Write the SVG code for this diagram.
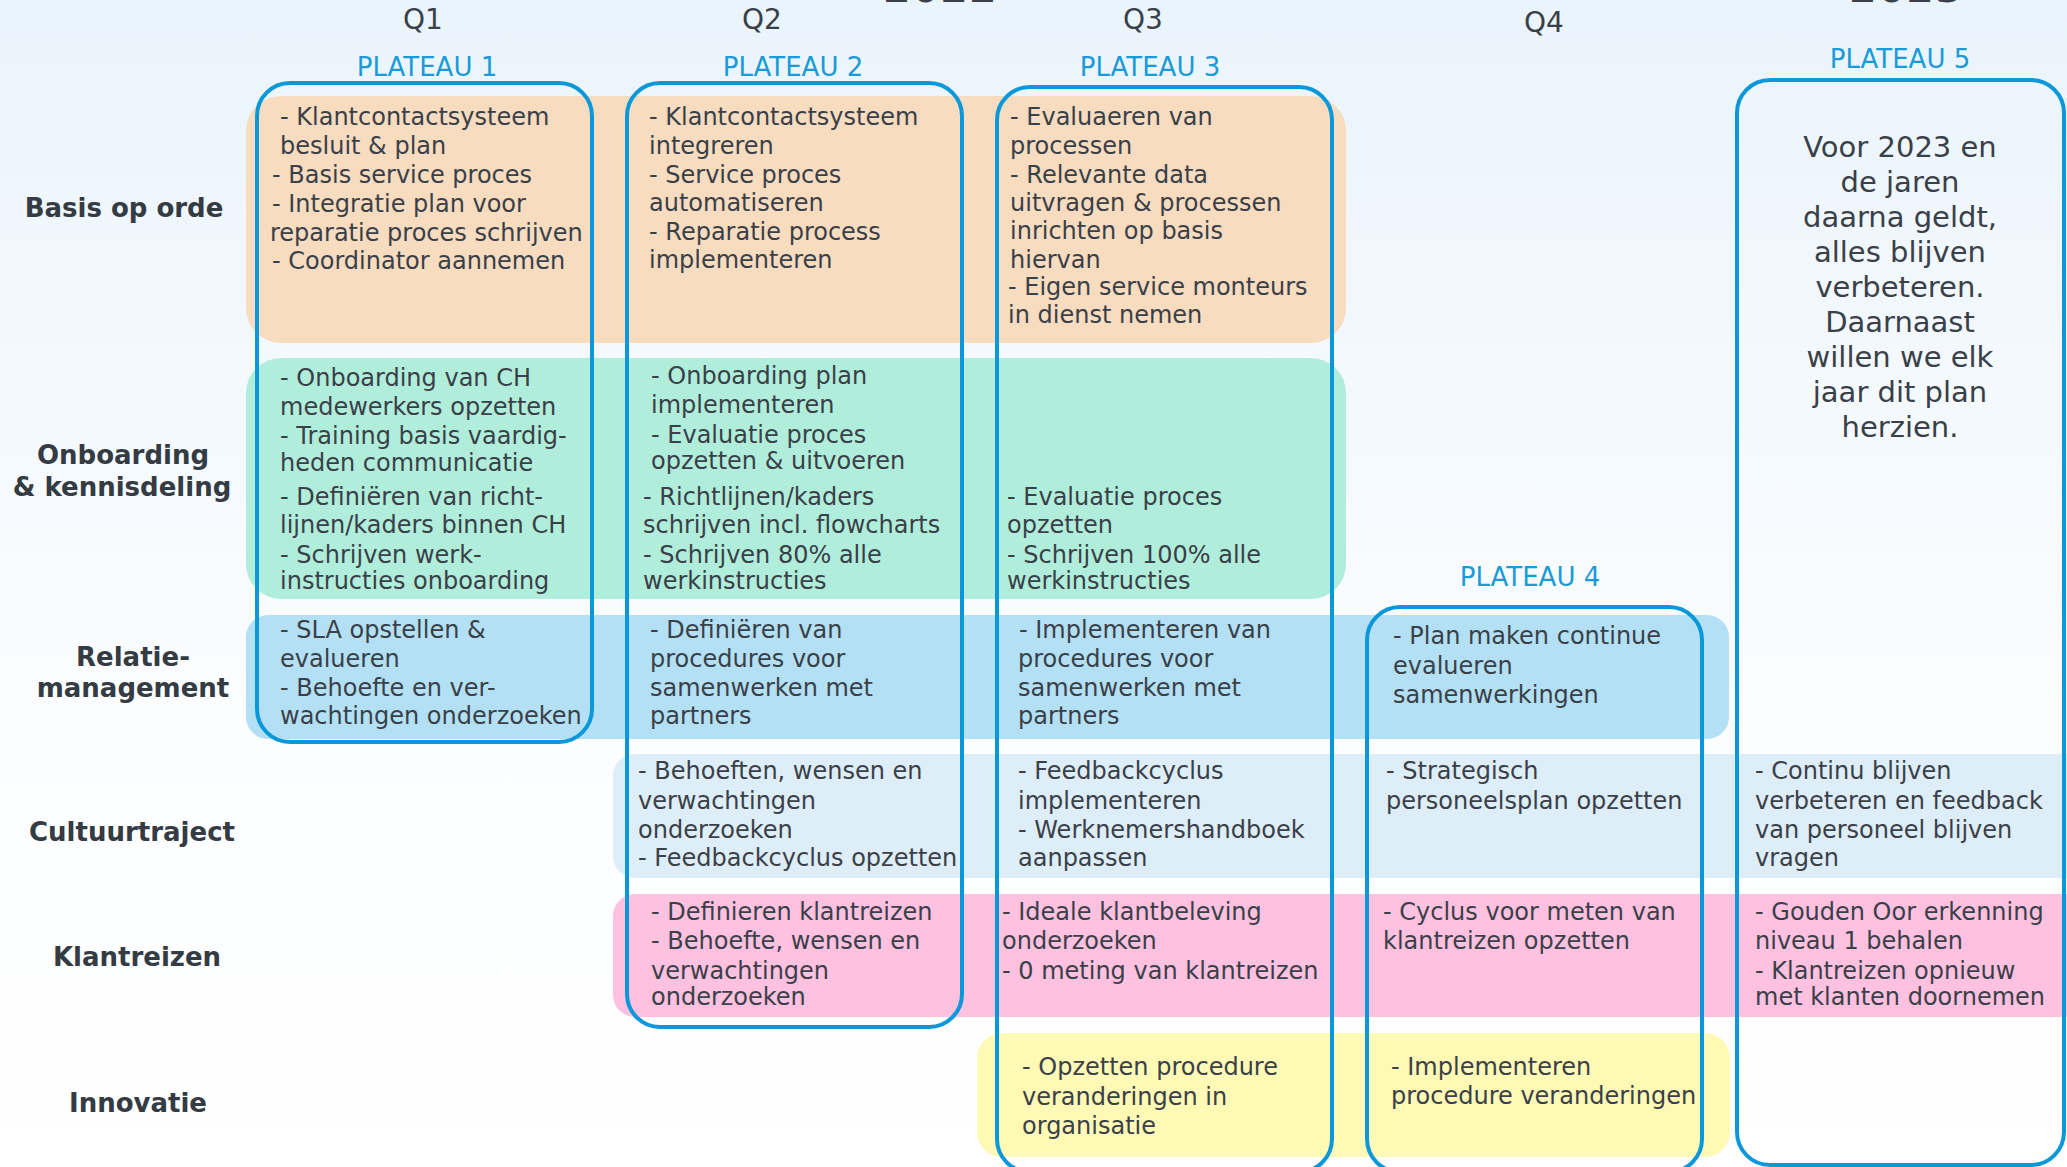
<svg xmlns="http://www.w3.org/2000/svg" width="2067" height="1167" viewBox="0 0 2067 1167">
<defs>
<linearGradient id="bg" x1="0" y1="0" x2="0" y2="1">
<stop offset="0" stop-color="#eaf4fc"/>
<stop offset="0.6" stop-color="#fbfdff"/>
<stop offset="1" stop-color="#ffffff"/>
</linearGradient>
<style>
.t{font-family:"DejaVu Sans",Verdana,sans-serif;font-size:24px;fill:#3a4048}
.lbl{font-family:"DejaVu Sans",Verdana,sans-serif;font-size:26px;font-weight:bold;fill:#343b43;text-anchor:middle}
.q{font-family:"DejaVu Sans",Verdana,sans-serif;font-size:28px;fill:#3a4048;text-anchor:middle}
.yr{font-family:"DejaVu Sans",Verdana,sans-serif;font-size:45px;fill:#3a4048;text-anchor:middle}
.pl{font-family:"DejaVu Sans",Verdana,sans-serif;font-size:26px;fill:#1a9ad8;text-anchor:middle}
.p5{font-family:"DejaVu Sans",Verdana,sans-serif;font-size:29px;fill:#3a4048;text-anchor:middle}
.plateau{fill:none;stroke:#0a98da;stroke-width:4}
.peach{fill:#f7dcc0}
.green{fill:#b0eedb}
.blue{fill:#b3e0f4}
.lblue{fill:#ddeef9}
.pink{fill:#ffc1e0}
.yellow{fill:#fef9b5}
</style>
</defs>
<rect x="0" y="0" width="2067" height="1167" fill="url(#bg)"/>

<g id="headers">
<text class="yr" x="940" y="2">2022</text>
<text class="yr" x="1906" y="2">2023</text>
<text class="q" x="423" y="29">Q1</text>
<text class="q" x="762" y="29">Q2</text>
<text class="q" x="1143" y="29">Q3</text>
<text class="q" x="1544" y="32">Q4</text>
</g>

<g id="bands">
<rect class="peach" x="246" y="96" width="1100" height="247" rx="35"/>
<rect class="green" x="246" y="358" width="1100" height="241" rx="35"/>
<rect class="blue" x="246" y="615" width="1483" height="124" rx="22"/>
<rect class="lblue" x="613" y="754" width="1490" height="124" rx="22"/>
<rect class="pink" x="613" y="894" width="1490" height="123" rx="22"/>
<rect class="yellow" x="977" y="1033" width="753" height="124" rx="25"/>
</g>

<g id="row-labels">
<text class="lbl" x="124" y="217">Basis op orde</text>
<text class="lbl" x="122" y="464"><tspan x="123" y="464">Onboarding</tspan><tspan x="122" y="496">&amp; kennisdeling</tspan></text>
<text class="lbl"><tspan x="133" y="666">Relatie-</tspan><tspan x="133" y="697">management</tspan></text>
<text class="lbl" x="132" y="841">Cultuurtraject</text>
<text class="lbl" x="137" y="966">Klantreizen</text>
<text class="lbl" x="138" y="1112">Innovatie</text>
</g>

<g id="plateau-1">
<text class="pl" x="427" y="76">PLATEAU 1</text>
<rect class="plateau" x="257" y="83" width="335" height="659" rx="33"/>
</g>
<g id="plateau-2">
<text class="pl" x="793" y="76">PLATEAU 2</text>
<rect class="plateau" x="627" y="83" width="335" height="944" rx="33"/>
</g>
<g id="plateau-3">
<text class="pl" x="1150" y="76">PLATEAU 3</text>
<rect class="plateau" x="997" y="87" width="335" height="1085" rx="33"/>
</g>
<g id="plateau-4">
<text class="pl" x="1530" y="586">PLATEAU 4</text>
<rect class="plateau" x="1367" y="607" width="335" height="565" rx="33"/>
</g>
<g id="plateau-5">
<text class="pl" x="1900" y="68">PLATEAU 5</text>
<rect class="plateau" x="1737" y="80" width="327" height="1085" rx="33"/>
<text class="p5"><tspan x="1900" y="157">Voor 2023 en</tspan><tspan x="1900" y="192">de jaren</tspan><tspan x="1900" y="227">daarna geldt,</tspan><tspan x="1900" y="262">alles blijven</tspan><tspan x="1900" y="297">verbeteren.</tspan><tspan x="1900" y="332">Daarnaast</tspan><tspan x="1900" y="367">willen we elk</tspan><tspan x="1900" y="402">jaar dit plan</tspan><tspan x="1900" y="437">herzien.</tspan></text>
</g>

<g id="basis-q1"><text class="t"><tspan x="280" y="125">- Klantcontactsysteem</tspan><tspan x="280" y="154">besluit &amp; plan</tspan><tspan x="272" y="183">- Basis service proces</tspan><tspan x="272" y="212">- Integratie plan voor</tspan><tspan x="270" y="241">reparatie proces schrijven</tspan><tspan x="272" y="269">- Coordinator aannemen</tspan></text></g>
<g id="basis-q2"><text class="t"><tspan x="649" y="125">- Klantcontactsysteem</tspan><tspan x="649" y="154">integreren</tspan><tspan x="649" y="183">- Service proces</tspan><tspan x="649" y="211">automatiseren</tspan><tspan x="649" y="240">- Reparatie process</tspan><tspan x="649" y="268">implementeren</tspan></text></g>
<g id="basis-q3"><text class="t"><tspan x="1010" y="125">- Evaluaeren van</tspan><tspan x="1010" y="154">processen</tspan><tspan x="1010" y="183">- Relevante data</tspan><tspan x="1010" y="211">uitvragen &amp; processen</tspan><tspan x="1010" y="239">inrichten op basis</tspan><tspan x="1010" y="268">hiervan</tspan><tspan x="1008" y="295">- Eigen service monteurs</tspan><tspan x="1008" y="323">in dienst nemen</tspan></text></g>

<g id="onboarding-q1"><text class="t"><tspan x="280" y="386">- Onboarding van CH</tspan><tspan x="280" y="415">medewerkers opzetten</tspan><tspan x="280" y="444">- Training basis vaardig-</tspan><tspan x="280" y="471">heden communicatie</tspan><tspan x="280" y="505">- Definiëren van richt-</tspan><tspan x="280" y="533">lijnen/kaders binnen CH</tspan><tspan x="280" y="563">- Schrijven werk-</tspan><tspan x="280" y="589">instructies onboarding</tspan></text></g>
<g id="onboarding-q2"><text class="t"><tspan x="651" y="384">- Onboarding plan</tspan><tspan x="651" y="413">implementeren</tspan><tspan x="651" y="443">- Evaluatie proces</tspan><tspan x="651" y="469">opzetten &amp; uitvoeren</tspan><tspan x="643" y="505">- Richtlijnen/kaders</tspan><tspan x="643" y="533">schrijven incl. flowcharts</tspan><tspan x="643" y="563">- Schrijven 80% alle</tspan><tspan x="643" y="589">werkinstructies</tspan></text></g>
<g id="onboarding-q3"><text class="t"><tspan x="1007" y="505">- Evaluatie proces</tspan><tspan x="1007" y="533">opzetten</tspan><tspan x="1007" y="563">- Schrijven 100% alle</tspan><tspan x="1007" y="589">werkinstructies</tspan></text></g>

<g id="relatie-q1"><text class="t"><tspan x="280" y="638">- SLA opstellen &amp;</tspan><tspan x="280" y="667">evalueren</tspan><tspan x="280" y="696">- Behoefte en ver-</tspan><tspan x="280" y="724">wachtingen onderzoeken</tspan></text></g>
<g id="relatie-q2"><text class="t"><tspan x="650" y="638">- Definiëren van</tspan><tspan x="650" y="667">procedures voor</tspan><tspan x="650" y="696">samenwerken met</tspan><tspan x="650" y="724">partners</tspan></text></g>
<g id="relatie-q3"><text class="t"><tspan x="1019" y="638">- Implementeren van</tspan><tspan x="1018" y="667">procedures voor</tspan><tspan x="1018" y="696">samenwerken met</tspan><tspan x="1018" y="724">partners</tspan></text></g>
<g id="relatie-q4"><text class="t"><tspan x="1393" y="644">- Plan maken continue</tspan><tspan x="1393" y="674">evalueren</tspan><tspan x="1393" y="703">samenwerkingen</tspan></text></g>

<g id="cultuur-q2"><text class="t"><tspan x="638" y="779">- Behoeften, wensen en</tspan><tspan x="638" y="809">verwachtingen</tspan><tspan x="638" y="838">onderzoeken</tspan><tspan x="638" y="866">- Feedbackcyclus opzetten</tspan></text></g>
<g id="cultuur-q3"><text class="t"><tspan x="1018" y="779">- Feedbackcyclus</tspan><tspan x="1018" y="809">implementeren</tspan><tspan x="1018" y="838">- Werknemershandboek</tspan><tspan x="1018" y="866">aanpassen</tspan></text></g>
<g id="cultuur-q4"><text class="t"><tspan x="1386" y="779">- Strategisch</tspan><tspan x="1386" y="809">personeelsplan opzetten</tspan></text></g>
<g id="cultuur-2023"><text class="t"><tspan x="1755" y="779">- Continu blijven</tspan><tspan x="1755" y="809">verbeteren en feedback</tspan><tspan x="1755" y="838">van personeel blijven</tspan><tspan x="1755" y="866">vragen</tspan></text></g>

<g id="klant-q2"><text class="t"><tspan x="651" y="920">- Definieren klantreizen</tspan><tspan x="651" y="949">- Behoefte, wensen en</tspan><tspan x="651" y="979">verwachtingen</tspan><tspan x="651" y="1005">onderzoeken</tspan></text></g>
<g id="klant-q3"><text class="t"><tspan x="1002" y="920">- Ideale klantbeleving</tspan><tspan x="1002" y="949">onderzoeken</tspan><tspan x="1002" y="979">- 0 meting van klantreizen</tspan></text></g>
<g id="klant-q4"><text class="t"><tspan x="1383" y="920">- Cyclus voor meten van</tspan><tspan x="1383" y="949">klantreizen opzetten</tspan></text></g>
<g id="klant-2023"><text class="t"><tspan x="1755" y="920">- Gouden Oor erkenning</tspan><tspan x="1755" y="949">niveau 1 behalen</tspan><tspan x="1755" y="979">- Klantreizen opnieuw</tspan><tspan x="1755" y="1005">met klanten doornemen</tspan></text></g>

<g id="innovatie-q3"><text class="t"><tspan x="1022" y="1075">- Opzetten procedure</tspan><tspan x="1022" y="1105">veranderingen in</tspan><tspan x="1022" y="1134">organisatie</tspan></text></g>
<g id="innovatie-q4"><text class="t"><tspan x="1391" y="1075">- Implementeren</tspan><tspan x="1391" y="1104">procedure veranderingen</tspan></text></g>

<g id="connectors"/>
</svg>
